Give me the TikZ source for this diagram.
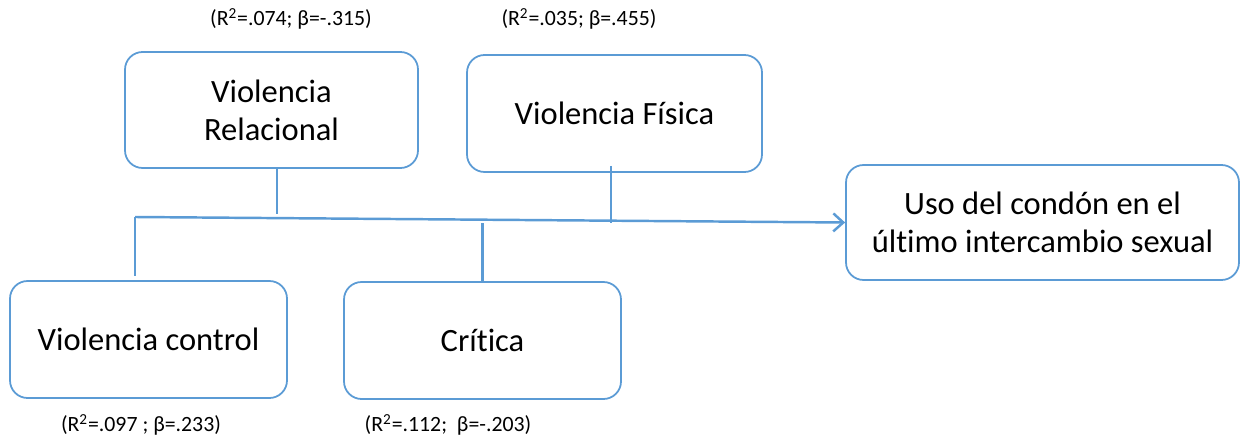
\documentclass[tikz,border=0pt]{standalone}
\usepackage{fontspec}
\setmainfont[Ligatures=NoCommon]{Carlito}
\usepackage{tikz}
\usetikzlibrary{arrows.meta,calc}
\definecolor{azul}{HTML}{5B9BD5}
\tikzset{
  caja/.style={draw=azul,fill=white,rounded corners=10pt,line width=1pt,align=center,font=\fontsize{18.5}{21.5}\selectfont,minimum width=55.4mm,minimum height=23.4mm},
  linea/.style={azul,line width=1.4pt},
  flecha/.style={linea,-{Straight Barb[length=2mm,width=3.6mm]}},
  coef/.style={font=\fontsize{12.4}{15}\selectfont,inner sep=0pt},
}

\begin{document}
\begin{tikzpicture}
  \useasboundingbox (0,0) rectangle (24.82,-8.72);
  \node[caja,minimum width=58.6mm,minimum height=23.2mm] (rel) at (5.43,-2.20) {Violencia\\Relacional};
  \node[caja,minimum width=59mm] (fis) at (12.29,-2.27) {Violencia Física};
  \node[caja,minimum width=78.6mm,minimum height=23mm] (uso) at (20.85,-4.45) {Uso del condón en el\\último intercambio sexual};
  \node[caja] (con) at (2.97,-6.79) {Violencia control};
  \node[caja] (cri) at (9.65,-6.81) {Crítica};
  \node[coef] (crel) at (5.82,-0.38) {(R\textsuperscript{2}=.074; β=-.315)};
  \node[coef] (cfis) at (11.58,-0.38) {(R\textsuperscript{2}=.035; β=.455)};
  \node[coef] (ccon) at (2.82,-8.50) {(R\textsuperscript{2}=.097 ; β=.233)};
  \node[coef] (ccri) at (8.96,-8.50) {(R\textsuperscript{2}=.112; \ β=-.203)};
  \coordinate (ini) at (2.70,-4.34);
  \draw[flecha] (ini) -- (uso.west);
  \draw[linea] ($(rel.south)+(0.11,0)$) -- ++(0,-0.9);
  \draw[linea] ($(fis.south)+(-0.07,0.14)$) -- ++(0,-1.14);
  \draw[linea] (ini) -- ++(0,-1.18);
  \draw[linea] (cri.north) -- ++(0,1.16);
\end{tikzpicture}
\end{document}
